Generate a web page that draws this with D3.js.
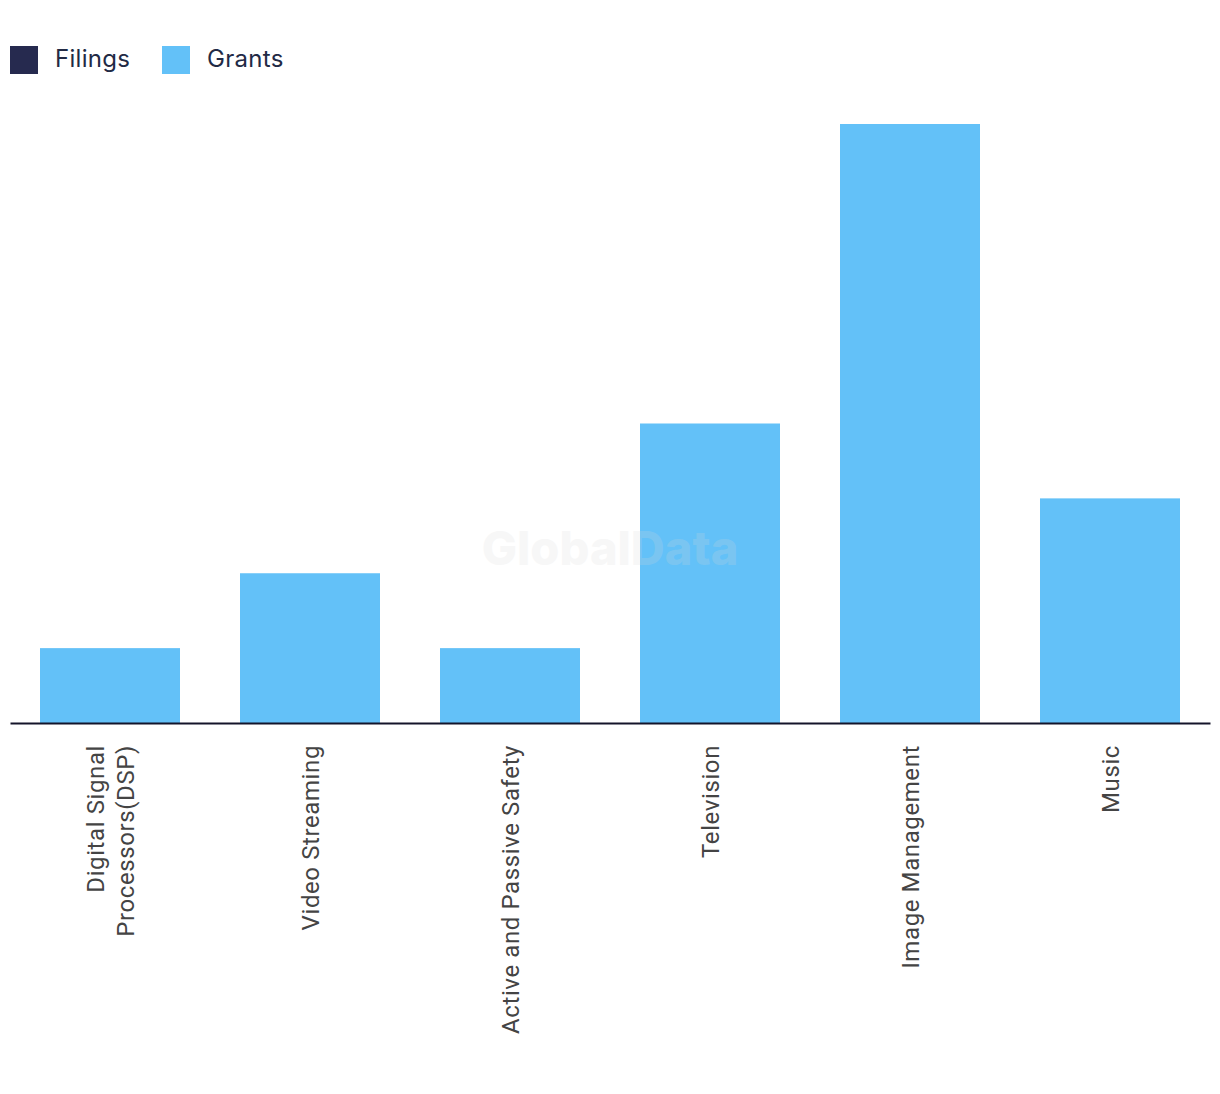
<!DOCTYPE html>
<html>
<head>
<meta charset="utf-8">
<script src="https://cdn.jsdelivr.net/npm/d3@7"></script>
<style>
body { margin: 0; background: #fff; }
svg { display: block; }
</style>
</head>
<body>
<svg id="chart" width="1220" height="1094"></svg>
<script>
const categories = [
  ["Digital Signal", "Processors(DSP)"],
  ["Video Streaming"],
  ["Active and Passive Safety"],
  ["Television"],
  ["Image Management"],
  ["Music"]
];
const seriesNames = ["Filings", "Grants"];
const filings = [0, 0, 0, 0, 0, 0];
const grants = [1, 2, 1, 4, 8, 3];
const colors = ["#262a4f", "#63c1f8"];

const svg = d3.select("#chart");
const margin = { left: 10, right: 10, top: 124, bottom: 371 };
const W = 1220, H = 1094;
const baseline = H - margin.bottom; // 723

const x = d3.scaleBand()
  .domain(categories.map((d, i) => i))
  .range([margin.left, W - margin.right])
  .paddingInner(0.3)
  .paddingOuter(0.15);

const y = d3.scaleLinear().domain([0, 8]).range([baseline, margin.top]);

// bars (filings are zero)
svg.append("g").selectAll("rect")
  .data(filings)
  .join("rect")
  .attr("x", (d, i) => x(i))
  .attr("width", x.bandwidth())
  .attr("y", d => y(d))
  .attr("height", d => baseline - y(d))
  .attr("fill", colors[0]);

svg.append("g").selectAll("rect")
  .data(grants)
  .join("rect")
  .attr("x", (d, i) => x(i))
  .attr("width", x.bandwidth())
  .attr("y", d => y(d))
  .attr("height", d => baseline - y(d))
  .attr("fill", colors[1]);

// watermark (over the bars)
svg.append("text")
  .attr("x", 610).attr("y", 565)
  .attr("text-anchor", "middle")
  .attr("font-family", "Inter, 'Open Sans', sans-serif")
  .attr("font-weight", 800)
  .attr("font-size", 47)
  .attr("fill", "#d8d8d8")
  .attr("opacity", 0.2)
  .text("GlobalData");

// axis
const axis = d3.axisBottom(x).tickSize(0).tickFormat(() => "");
const ag = svg.append("g").attr("transform", `translate(0,${baseline})`).call(axis);
ag.select(".domain").attr("stroke", "#14142a").attr("stroke-width", 2);

// labels
const lblG = svg.append("g");
categories.forEach((lines, i) => {
  const cx = x(i) + x.bandwidth() / 2;
  const n = lines.length;
  const lh = 30;
  lines.forEach((ln, j) => {
    const off = (j - (n - 1) / 2) * lh;
    lblG.append("text")
      .attr("transform", `translate(${cx + off + 9},745) rotate(-90)`)
      .attr("text-anchor", "end")
      .attr("font-family", "Roboto, 'Noto Sans', sans-serif")
      .attr("font-size", 24)
      .attr("letter-spacing", 0.6)
      .attr("fill", "#444444")
      .text(ln);
  });
});

// legend
const leg = svg.append("g");
const legX = [10, 162];
seriesNames.forEach((s, i) => {
  leg.append("rect")
    .attr("x", legX[i]).attr("y", 46)
    .attr("width", 28).attr("height", 28)
    .attr("fill", colors[i]);
  leg.append("text")
    .attr("x", legX[i] + 45).attr("y", 67)
    .attr("font-family", "Inter, 'Open Sans', sans-serif")
    .attr("font-size", 24)
    .attr("letter-spacing", 0.3)
    .attr("fill", "#222a45")
    .text(s);
});
</script>
</body>
</html>
